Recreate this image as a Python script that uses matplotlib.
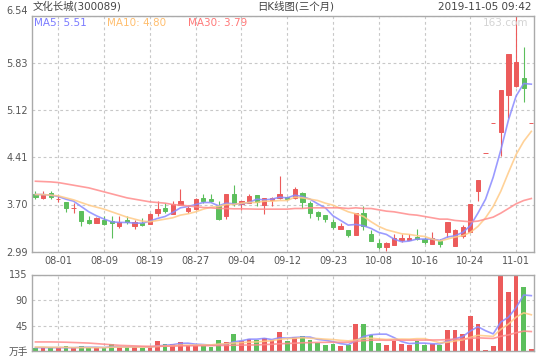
import matplotlib
matplotlib.use("Agg")
import matplotlib.pyplot as plt
import numpy as np

plt.rcParams['font.family'] = ['DejaVu Sans', 'Noto Sans CJK SC']

# daily candles, 3 months
opens = [3.86, 3.80, 3.87, 3.78, 3.74, 3.64, 3.60, 3.46, 3.42, 3.46,
         3.45, 3.38, 3.47, 3.37, 3.42, 3.41, 3.57, 3.65, 3.56, 3.70,
         3.60, 3.63, 3.80, 3.78, 3.68, 3.53, 3.86, 3.71, 3.72, 3.84,
         3.69, 3.77, 3.80, 3.81, 3.80, 3.87, 3.72, 3.58, 3.54, 3.43,
         3.33, 3.31, 3.24, 3.57, 3.25, 3.12, 3.06, 3.09, 3.16, 3.17,
         3.21, 3.18, 3.10, 3.15, 3.29, 3.08, 3.23, 3.29, 3.90, 4.48,
         4.93, 4.79, 5.35, 5.48, 5.61, 4.93]
closes = [3.81, 3.86, 3.81, 3.79, 3.65, 3.65, 3.45, 3.42, 3.49, 3.40,
          3.42, 3.43, 3.43, 3.44, 3.39, 3.56, 3.63, 3.60, 3.71, 3.75,
          3.64, 3.78, 3.75, 3.75, 3.48, 3.86, 3.71, 3.75, 3.83, 3.74,
          3.80, 3.80, 3.86, 3.79, 3.93, 3.74, 3.57, 3.52, 3.48, 3.36,
          3.37, 3.24, 3.57, 3.37, 3.15, 3.06, 3.12, 3.19, 3.19, 3.20,
          3.18, 3.14, 3.19, 3.10, 3.43, 3.31, 3.36, 3.70, 4.07, 4.48,
          4.93, 5.42, 5.96, 5.84, 5.45, 4.93]
highs = [3.90, 3.90, 3.90, 3.84, 3.74, 3.72, 3.60, 3.52, 3.51, 3.52,
         3.52, 3.52, 3.52, 3.46, 3.49, 3.57, 3.76, 3.72, 3.76, 3.93,
         3.67, 3.80, 3.86, 3.86, 3.75, 3.86, 3.99, 3.75, 3.86, 3.84,
         3.80, 3.82, 4.13, 3.81, 3.96, 3.89, 3.75, 3.60, 3.54, 3.48,
         3.42, 3.31, 3.57, 3.68, 3.31, 3.18, 3.14, 3.25, 3.25, 3.25,
         3.33, 3.21, 3.28, 3.18, 3.43, 3.33, 3.39, 3.70, 4.07, 4.48,
         4.93, 5.42, 5.96, 6.54, 6.07, 4.93]
lows = [3.78, 3.78, 3.78, 3.74, 3.59, 3.57, 3.38, 3.41, 3.42, 3.39,
        3.20, 3.35, 3.41, 3.33, 3.37, 3.40, 3.53, 3.57, 3.55, 3.69,
        3.57, 3.61, 3.73, 3.74, 3.46, 3.48, 3.68, 3.62, 3.72, 3.68,
        3.56, 3.68, 3.78, 3.77, 3.78, 3.65, 3.50, 3.47, 3.44, 3.33,
        3.33, 3.21, 3.24, 3.31, 3.15, 3.03, 3.00, 3.09, 3.13, 3.17,
        3.16, 3.10, 3.10, 3.06, 3.21, 3.08, 3.19, 3.29, 3.75, 4.48,
        4.93, 4.43, 5.00, 5.46, 5.24, 4.93]
# volume in 万手
vols = [5, 5, 5, 5, 9, 5, 9, 5, 5, 6.5,
        12, 6.5, 6.5, 6.5, 5, 9, 18, 12, 12, 16,
        11, 9, 9, 6.5, 19.5, 16, 30, 18, 21, 19.5,
        23, 19.5, 34, 18, 25, 26.5, 19.5, 13.5, 10.5, 12.5,
        9, 10.5, 48, 48, 28, 14, 10.5, 18, 12.5, 10.5,
        18, 10.5, 12.5, 10.5, 37, 37, 30, 62, 48, 2,
        9, 135, 104, 133, 113, 3.5]

ma5 = [3.85, 3.85, 3.84, 3.82, 3.78, 3.75, 3.67, 3.59, 3.53, 3.48,
       3.44, 3.43, 3.43, 3.42, 3.42, 3.45, 3.49, 3.52, 3.58, 3.65,
       3.67, 3.70, 3.73, 3.73, 3.68, 3.72, 3.71, 3.71, 3.73, 3.78,
       3.77, 3.78, 3.81, 3.80, 3.84, 3.82, 3.78, 3.71, 3.65, 3.53,
       3.46, 3.39, 3.40, 3.38, 3.34, 3.28, 3.25, 3.18, 3.14, 3.15,
       3.18, 3.18, 3.18, 3.16, 3.21, 3.23, 3.28, 3.38, 3.57, 3.78,
       4.11, 4.52, 4.97, 5.33, 5.52, 5.51]
ma10 = [3.85, 3.85, 3.84, 3.83, 3.80, 3.77, 3.73, 3.69, 3.66, 3.63,
        3.59, 3.55, 3.51, 3.48, 3.45, 3.44, 3.46, 3.48, 3.50, 3.54,
        3.56, 3.59, 3.63, 3.66, 3.67, 3.70, 3.70, 3.72, 3.73, 3.73,
        3.75, 3.75, 3.76, 3.76, 3.81, 3.80, 3.78, 3.76, 3.72, 3.69,
        3.64, 3.59, 3.56, 3.52, 3.44, 3.37, 3.32, 3.29, 3.26, 3.25,
        3.23, 3.22, 3.18, 3.15, 3.18, 3.21, 3.23, 3.28, 3.37, 3.50,
        3.67, 3.90, 4.18, 4.45, 4.65, 4.80]
ma30 = [4.05, 4.045, 4.04, 4.03, 4.01, 3.99, 3.97, 3.95, 3.92, 3.89,
        3.86, 3.83, 3.80, 3.78, 3.76, 3.74, 3.73, 3.72, 3.70, 3.69,
        3.68, 3.665, 3.655, 3.65, 3.64, 3.64, 3.635, 3.635, 3.633, 3.63,
        3.63, 3.63, 3.63, 3.63, 3.64, 3.64, 3.65, 3.65, 3.65, 3.65,
        3.65, 3.64, 3.65, 3.64, 3.64, 3.62, 3.60, 3.59, 3.57, 3.55,
        3.54, 3.52, 3.50, 3.48, 3.48, 3.46, 3.45, 3.44, 3.45, 3.48,
        3.51, 3.57, 3.64, 3.71, 3.76, 3.79]

vma5 = [6, 6, 6, 6, 5.8, 5.8, 6.6, 6.6, 6.6, 6.1,
        7.5, 7, 7.3, 7.6, 7.3, 6.7, 9, 10.1, 11.2, 13.4,
        13.8, 12, 11.4, 10.3, 11, 12, 16.2, 18, 20.9, 20.9,
        22.3, 20.2, 23.4, 22.8, 23.9, 24.6, 24.6, 20.5, 19, 16.5,
        13, 11.2, 18.1, 25.6, 28.7, 29.7, 29.7, 23.7, 16.6, 13.1,
        13.9, 13.9, 12.8, 12.4, 17.7, 21.5, 25.4, 35.3, 42.8, 35.8,
        30.2, 51.2, 59.6, 76.6, 98.8, 97.7]
vma10 = [7, 7, 6.5, 6.5, 6.5, 6, 6, 6, 6, 5.95,
         6.65, 6.8, 6.95, 7.1, 6.7, 7.1, 8, 8.7, 9.4, 10.35,
         10.25, 10.5, 10.75, 10.75, 12.2, 12.9, 14.1, 14.7, 15.6, 15.95,
         17.15, 18.2, 20.7, 21.85, 22.4, 23.45, 22.4, 21.95, 20.9, 20.2,
         18.8, 17.9, 19.3, 22.3, 22.6, 21.35, 20.45, 20.9, 21.1, 20.9,
         21.8, 21.8, 18.25, 14.5, 15.4, 17.7, 19.65, 24.05, 27.6, 26.75,
         25.85, 38.3, 47.45, 59.7, 67.3, 63.95]
vma30 = [16, 16, 16, 15.8, 15.5, 15, 14.5, 14, 13, 12,
         11, 10, 9.5, 9, 8.5, 8.3, 8.3, 8.5, 8.7, 9,
         9.2, 9.3, 9.4, 9.5, 9.7, 9.9, 10.2, 10.4, 10.6, 10.75,
         11.35, 11.83, 12.8, 13.23, 13.77, 14.48, 14.83, 15.12, 15.3, 15.5,
         15.4, 15.53, 16.92, 18.3, 19.07, 19.23, 18.98, 19.18, 19.2, 19.02,
         19.25, 19.3, 19.42, 19.55, 20.13, 20.83, 20.83, 22.3, 23.2, 22.62,
         22.15, 26, 28.33, 32.17, 35.1, 34.33]

date_pos = [3, 9, 15, 21, 27, 33, 39, 45, 51, 57, 63]
date_labels = ['08-01', '08-09', '08-19', '08-27', '09-04', '09-12',
               '09-23', '10-08', '10-16', '10-24', '11-01']
price_ticks = [2.99, 3.70, 4.41, 5.12, 5.83, 6.54]
vol_ticks = [0, 45, 90, 135]
vol_labels = ['万手', '45', '90', '135']

RED = '#ec5b5b'
GREEN = '#5cbf5c'
C5, C10, C30 = '#8a8aff', '#ffca86', '#ff8c8c'
GRID = '#c8c8c8'
TXT = '#555555'

o = np.array(opens); c = np.array(closes)
x = np.arange(len(c))
colors = np.where(c >= o, RED, GREEN)

fig = plt.figure(figsize=(5.4, 3.6), dpi=100)
ax = fig.add_axes([32/540, 1-251.7/360, 502/540, 236/360])
axv = fig.add_axes([32/540, 1-351/360, 502/540, 76.5/360])

for a in (ax, axv):
    a.set_xlim(-0.45, 65.35)
    a.set_xticks(date_pos)
    a.grid(True, color=GRID, linestyle=(0, (2.5, 2.5)), linewidth=0.8)
    a.set_axisbelow(True)
    for s in a.spines.values():
        s.set_color('#aaaaaa')
        s.set_linewidth(1.0)
    a.tick_params(length=0, labelsize=7, labelcolor=TXT, pad=3)

# price panel
ax.vlines(x, lows, highs, color=colors, linewidth=0.8)
ax.bar(x, np.abs(c - o), bottom=np.minimum(o, c), width=0.56,
       color=colors, edgecolor=colors, linewidth=0.7)
ax.plot(x, ma5, color=C5, lw=1.2, alpha=0.85)
ax.plot(x, ma10, color=C10, lw=1.2, alpha=0.85)
ax.plot(x, ma30, color=C30, lw=1.2, alpha=0.85)
ax.set_ylim(2.99, 6.54)
ax.set_yticks(price_ticks)
ax.set_yticklabels([f'{v:.2f}' for v in price_ticks])
ax.get_yticklabels()[-1].set_verticalalignment('bottom')
ax.set_xticklabels(date_labels)

# volume panel
axv.bar(x, vols, width=0.62, color=colors)
axv.plot(x, vma5, color=C5, lw=1.2, alpha=0.85)
axv.plot(x, vma10, color=C10, lw=1.2, alpha=0.85)
axv.plot(x, vma30, color=C30, lw=1.2, alpha=0.85)
axv.set_ylim(0, 135)
axv.set_yticks(vol_ticks)
axv.set_yticklabels(vol_labels)
axv.set_xticklabels([])

# header texts
fig.text(33/540, 1-6.5/360, '文化长城(300089)', ha='left', va='center', fontsize=7.5, color='#444444')
fig.text(257/540, 1-6.5/360, '日K线图(三个月)', ha='left', va='center', fontsize=7.5, color='#444444')
fig.text(532/540, 1-6.5/360, '2019-11-05 09:42', ha='right', va='center', fontsize=7.5, color='#444444')
fig.text(34/540, 1-23.3/360, f'MA5: {ma5[-1]:.2f}', ha='left', va='center', fontsize=7.5, color='#7b7bff')
fig.text(107/540, 1-23.3/360, f'MA10: {ma10[-1]:.2f}', ha='left', va='center', fontsize=7.5, color='#ffbe6e')
fig.text(188/540, 1-23.3/360, f'MA30: {ma30[-1]:.2f}', ha='left', va='center', fontsize=7.5, color='#ff7878')
fig.text(528/540, 1-23.3/360, '163.com', ha='right', va='center', fontsize=7.5, color='#d4d4d4')

fig.savefig('out.png', dpi=100)
